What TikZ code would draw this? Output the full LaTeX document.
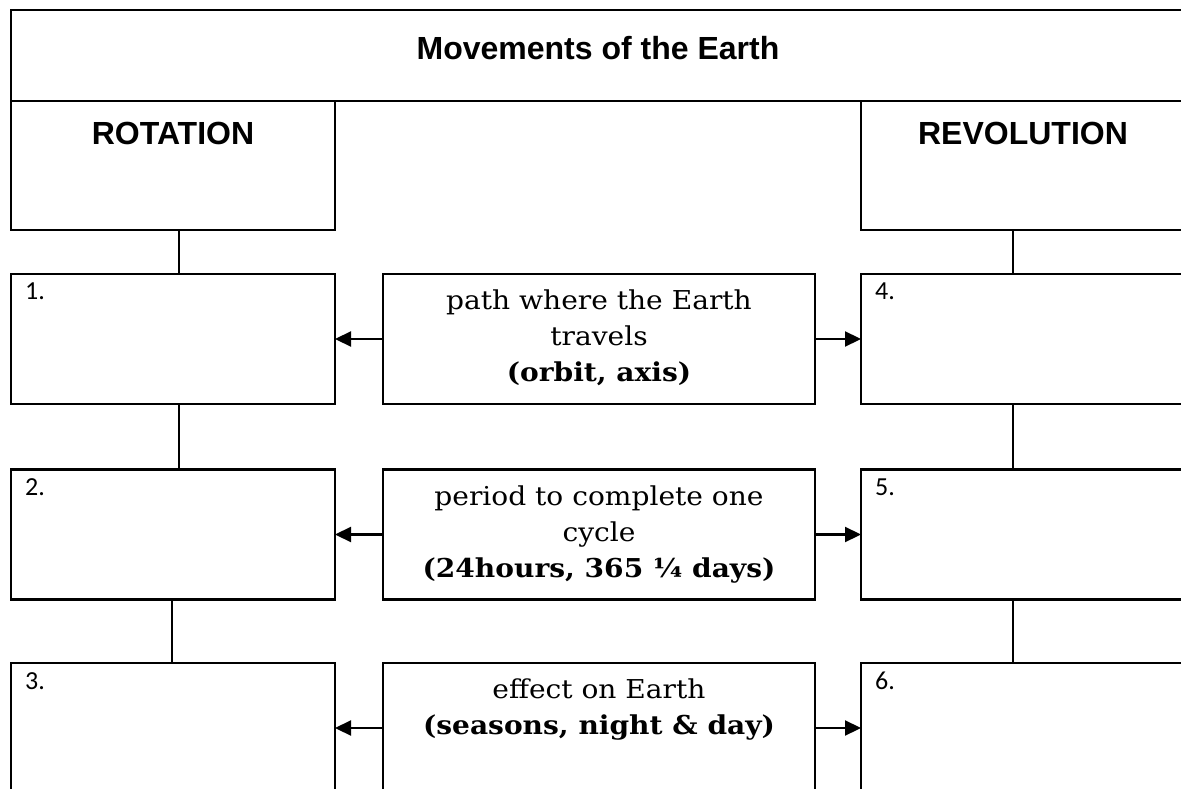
\documentclass[tikz,border=0pt]{standalone}
\usepackage{fontspec}
\setmainfont{DejaVu Serif}[FakeStretch=1.08]
\newfontfamily\headfont{Liberation Sans}
\newfontfamily\numfont{Carlito}
\usetikzlibrary{positioning,arrows.meta}

\begin{document}
\begin{tikzpicture}[x=1pt,y=-1pt,
		box/.style={draw,line width=2.2pt,minimum width=324pt,minimum height=130pt,inner sep=0pt,outer sep=0pt},
		midbox/.style={box,minimum width=432pt},
		head/.style={font=\headfont\bfseries\fontsize{32}{38}\selectfont},
		num/.style={font=\numfont\fontsize{26}{30}\selectfont,anchor=north west,inner sep=0pt},
		info/.style={anchor=north,align=center,inner sep=0pt,font=\fontsize{26}{36}\selectfont},
		link/.style={line width=2.2pt},
		pointer/.style={line width=2.2pt,-{Triangle[length=16pt,width=15pt]}}]
	\useasboundingbox (0,0) rectangle (1181,789);
	\fill[white] (0,0) rectangle (1181,789);
	\clip (0,0) rectangle (1181,789);
	% headings
	\node(title) [box,minimum width=1174pt,minimum height=91pt] at (598,55.5) {};
	\node at ([yshift=7pt]title.center) [head] {Movements of the Earth};
	\node(rot) [box,minimum height=129pt] at (173,165.5) {};
	\node at ([yshift=-32pt]rot.north) [head] {ROTATION};
	\node(rev) [box,minimum height=129pt] at (1023,165.5) {};
	\node at ([yshift=-32pt]rev.north) [head] {REVOLUTION};
	% rows
	\node(l1) [box] at (173,339) {};
	\node(m1) [midbox,right=48pt of l1] {};
	\node(r1) [box,right=46pt of m1] {};
	\node(l2) [box] at (173,534.5) {};
	\node(m2) [midbox,right=48pt of l2] {};
	\node(r2) [box,right=46pt of m2] {};
	\node(l3) [box] at (173,728) {};
	\node(m3) [midbox,right=48pt of l3] {};
	\node(r3) [box,right=46pt of m3] {};
	\foreach \b/\t in {l1/1.,l2/2.,l3/3.,r1/4.,r2/5.,r3/6.}
		\node at ([xshift=14pt,yshift=-9pt]\b.north west) [num] {\t};
	\node at ([yshift=-16pt]m1.north) [info] {path where the Earth\\travels\\\textbf{(orbit, axis)}};
	\node at ([yshift=-16pt]m2.north) [info] {period to complete one\\cycle\\\textbf{(24hours, 365 ¼ days)}};
	\node at ([yshift=-16pt]m3.north) [info] {effect on Earth\\\textbf{(seasons, night \& day)}};
	% connectors
	\draw[link] ([xshift=6pt]rot.south) -- ([xshift=6pt]rot.south |- l1.north);
	\draw[link] ([xshift=6pt]l1.south) -- ([xshift=6pt]l1.south |- l2.north);
	\draw[link] ([xshift=-1pt]l2.south) -- ([xshift=-1pt]l2.south |- l3.north);
	\draw[link] ([xshift=-10pt]rev.south) -- ([xshift=-10pt]rev.south |- r1.north);
	\draw[link] ([xshift=-10pt]r1.south) -- ([xshift=-10pt]r1.south |- r2.north);
	\draw[link] ([xshift=-10pt]r2.south) -- ([xshift=-10pt]r2.south |- r3.north);
	\foreach \i in {1,2,3} {
		\draw[pointer] (m\i.west) -- (l\i.east);
		\draw[pointer] (m\i.east) -- (r\i.west);
	}
\end{tikzpicture}
\end{document}
